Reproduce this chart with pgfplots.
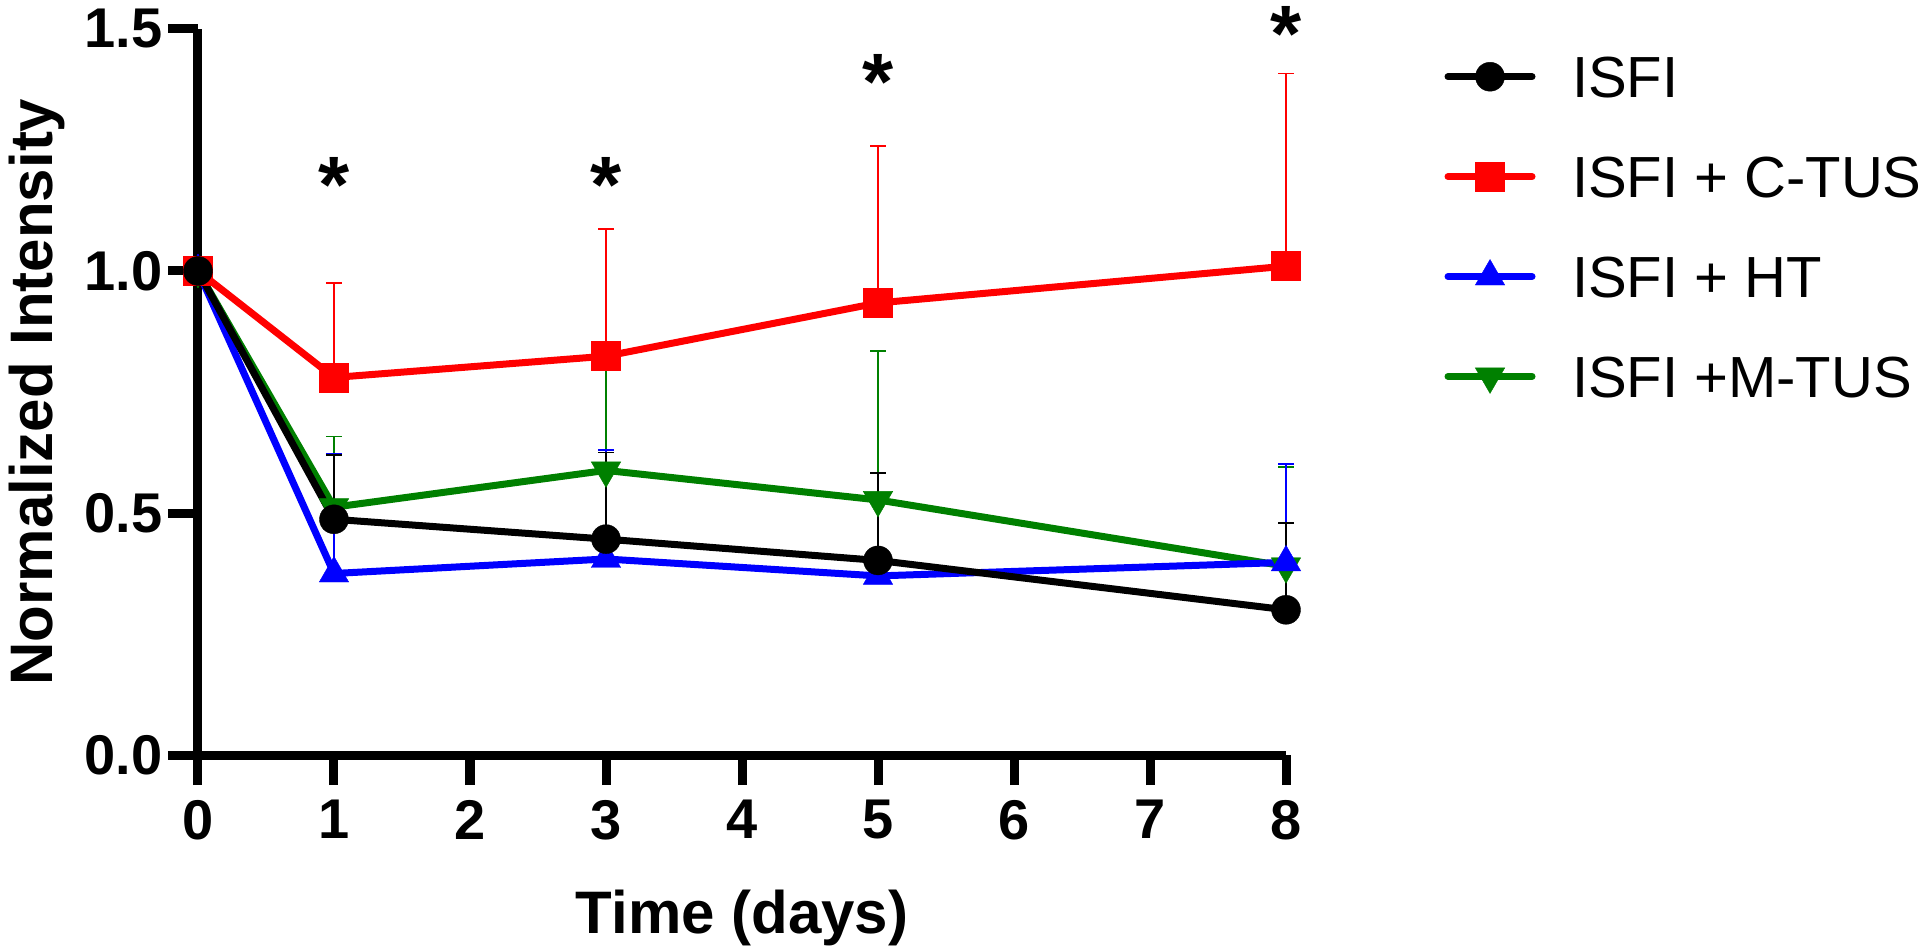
\documentclass[border=0pt]{standalone}
\usepackage{fontspec}
\setmainfont{Liberation Sans}
\usepackage{pgfplots}
\pgfplotsset{compat=1.18}
\definecolor{cred}{RGB}{255,0,0}
\definecolor{cblue}{RGB}{0,0,255}
\definecolor{cgreen}{RGB}{0,128,0}
\begin{document}
\begin{tikzpicture}
\begin{axis}[
  at={(0pt,0pt)}, anchor=south west,
  scale only axis, width=544pt, height=363pt,
  xmin=0, xmax=8, ymin=0, ymax=1.5,
  axis lines=left, axis line style={line width=4.5pt, -},
  clip=false,
  xtick={0,1,2,3,4,5,6,7,8}, ytick={0,0.5,1,1.5},
  tick align=outside, major tick length=15pt,
  tick style={line width=4.5pt, black},
  /pgf/number format/assume math mode=true,
  tick label style={font=\bfseries\fontsize{28}{28}\selectfont},
  yticklabel style={inner sep=0pt, xshift=-2.5pt, /pgf/number format/.cd, fixed, fixed zerofill, precision=1},
  xticklabel style={inner sep=0pt, yshift=-7.5pt},
  xlabel={Time (days)}, ylabel={Normalized Intensity},
  label style={font=\bfseries\fontsize{30}{30}\selectfont},
  xlabel style={at={(axis description cs:0.5,-0.2452)}, anchor=base},
  ylabel style={at={(axis description cs:-0.1333,0.5)}, anchor=base, rotate=0},
  reverse legend,
  legend style={at={(axis description cs:1.1457,0.9614)}, anchor=north west, draw=none, fill=none,
    inner sep=0pt, outer sep=0pt, row sep=29.7pt, column sep=18.25pt,
    font=\fontsize{29}{29}\selectfont, nodes={inner sep=0pt, text depth=0pt, anchor=base west}},
  legend cell align=left,
  legend image code/.code={\draw[#1, line cap=round, mark repeat=2, mark phase=2, yshift=10.4pt] plot coordinates {(0pt,0pt) (21pt,0pt) (42pt,0pt)};},
]
% ISFI + M-TUS
\addplot[cgreen, line width=3.5pt, mark=triangle*, mark size=8.5pt,
  mark options={solid, rotate=180, fill=cgreen, line width=0.2pt},
  error bars/.cd, y dir=plus, y explicit,
  error bar style={line width=0.8pt, cgreen},
  error mark options={rotate=90, mark size=4pt, line width=0.8pt, cgreen}]
  table[x=x, y=y, y error=e] {
x y e
0 1.000 0
1 0.512 0.146
3 0.588 0.212
5 0.527 0.308
8 0.390 0.205
};
\addlegendentry{ISFI +M-TUS}
% ISFI + HT
\addplot[cblue, line width=3.5pt, mark=triangle*, mark size=8.5pt,
  mark options={solid, fill=cblue, line width=0.2pt},
  error bars/.cd, y dir=plus, y explicit,
  error bar style={line width=0.8pt, cblue},
  error mark options={rotate=90, mark size=4pt, line width=0.8pt, cblue}]
  table[x=x, y=y, y error=e] {
x y e
0 1.000 0
1 0.375 0.247
3 0.405 0.225
5 0.370 0.150
8 0.398 0.203
};
\addlegendentry{ISFI + HT}
% ISFI + C-TUS
\addplot[cred, line width=3.5pt, mark=square*, mark size=7.25pt,
  mark options={solid, fill=cred, line width=0.2pt},
  error bars/.cd, y dir=plus, y explicit,
  error bar style={line width=0.8pt, cred},
  error mark options={rotate=90, mark size=4pt, line width=0.8pt, cred}]
  table[x=x, y=y, y error=e] {
x y e
0 1.000 0
1 0.780 0.195
3 0.824 0.263
5 0.934 0.324
8 1.010 0.398
};
\addlegendentry{ISFI + C-TUS}
% ISFI
\addplot[black, line width=3.5pt, mark=*, mark size=7.25pt,
  mark options={solid, fill=black, line width=0.2pt},
  error bars/.cd, y dir=plus, y explicit,
  error bar style={line width=0.8pt, black},
  error mark options={rotate=90, mark size=4pt, line width=0.8pt, black}]
  table[x=x, y=y, y error=e] {
x y e
0 1.000 0
1 0.487 0.133
3 0.446 0.179
5 0.402 0.181
8 0.300 0.179
};
\addlegendentry{ISFI}
\node[font=\bfseries\fontsize{40}{40}\selectfont, anchor=base] at (axis cs:1,1.12) {*};
\node[font=\bfseries\fontsize{40}{40}\selectfont, anchor=base] at (axis cs:3,1.12) {*};
\node[font=\bfseries\fontsize{40}{40}\selectfont, anchor=base] at (axis cs:5,1.334) {*};
\node[font=\bfseries\fontsize{40}{40}\selectfont, anchor=base] at (axis cs:8,1.432) {*};
\end{axis}
\pgfresetboundingbox
\path (-99pt,-96.5pt) rectangle (861pt,377.5pt);
\end{tikzpicture}
\end{document}
